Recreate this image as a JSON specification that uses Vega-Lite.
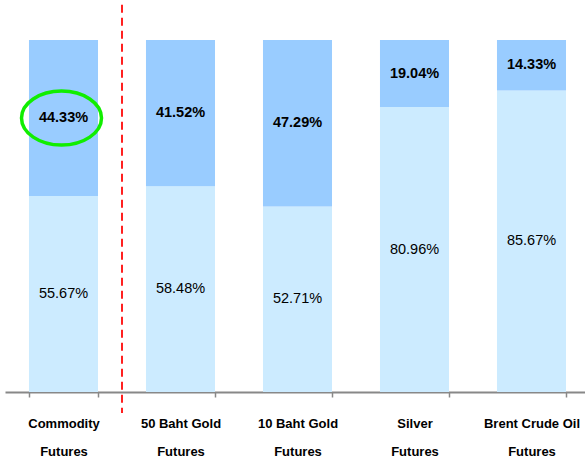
{
  "$schema": "https://vega.github.io/schema/vega-lite/v6.json",
  "autosize": "none",
  "width": 585,
  "height": 352,
  "padding": {"left": 5, "top": 40, "right": 0, "bottom": 69},
  "background": "white",
  "config": {"view": {"stroke": null}, "font": "Liberation Sans"},
  "data": {"values": [
    {"cat": "Commodity|Futures", "series": "bottom", "ord": 0, "v": 55.67},
    {"cat": "Commodity|Futures", "series": "top", "ord": 1, "v": 44.33},
    {"cat": "50 Baht Gold|Futures", "series": "bottom", "ord": 0, "v": 58.48},
    {"cat": "50 Baht Gold|Futures", "series": "top", "ord": 1, "v": 41.52},
    {"cat": "10 Baht Gold|Futures", "series": "bottom", "ord": 0, "v": 52.71},
    {"cat": "10 Baht Gold|Futures", "series": "top", "ord": 1, "v": 47.29},
    {"cat": "Silver|Futures", "series": "bottom", "ord": 0, "v": 80.96},
    {"cat": "Silver|Futures", "series": "top", "ord": 1, "v": 19.04},
    {"cat": "Brent Crude Oil|Futures", "series": "bottom", "ord": 0, "v": 85.67},
    {"cat": "Brent Crude Oil|Futures", "series": "top", "ord": 1, "v": 14.33}
  ]},
  "transform": [
    {"stack": "v", "groupby": ["cat"], "sort": [{"field": "ord"}], "as": ["y0", "y1"]},
    {"calculate": "(datum.y0 + datum.y1) / 2", "as": "mid"},
    {"calculate": "format(datum.v, '.2f') + '%'", "as": "lab"}
  ],
  "encoding": {
    "x": {
      "field": "cat", "type": "nominal", "sort": null, "title": null,
      "scale": {"paddingInner": 0.41, "paddingOuter": 0.205},
      "axis": {
        "labelAngle": 0,
        "labelExpr": "split(datum.label, '|')",
        "labelFont": "Liberation Sans",
        "labelFontSize": 13,
        "labelFontWeight": "bold",
        "labelColor": "black",
        "labelLineHeight": 28,
        "labelPadding": 20,
        "tickBand": "extent",
        "tickColor": "#888888",
        "tickSize": 5,
        "tickWidth": 1.5,
        "domainColor": "#888888",
        "domainWidth": 2
      }
    }
  },
  "layer": [
    {
      "mark": {"type": "bar"},
      "encoding": {
        "y": {"field": "y0", "type": "quantitative", "scale": {"domain": [0, 100]}, "axis": null},
        "y2": {"field": "y1"},
        "color": {"field": "series", "type": "nominal", "legend": null,
          "scale": {"domain": ["bottom", "top"], "range": ["#CCEBFF", "#99CCFF"]}}
      }
    },
    {
      "transform": [{"filter": "datum.series == 'bottom'"}],
      "mark": {"type": "text", "fontSize": 14.5, "font": "Liberation Sans", "color": "black"},
      "encoding": {
        "y": {"field": "mid", "type": "quantitative"},
        "text": {"field": "lab"}
      }
    },
    {
      "transform": [{"filter": "datum.series == 'top'"}],
      "mark": {"type": "text", "fontSize": 14.5, "fontWeight": "bold", "font": "Liberation Sans", "color": "black"},
      "encoding": {
        "y": {"field": "mid", "type": "quantitative"},
        "text": {"field": "lab"}
      }
    },
    {
      "transform": [{"filter": "datum.cat == 'Commodity|Futures' && datum.series == 'top'"}],
      "mark": {"type": "rule", "color": "#FF2020", "strokeWidth": 2, "strokeDash": [8, 5], "clip": false},
      "encoding": {
        "x": {"field": "cat", "type": "nominal", "sort": null, "bandPosition": 1.3475},
        "y": {"datum": 110},
        "y2": {"datum": -6}
      }
    },
    {
      "transform": [{"filter": "datum.cat == 'Commodity|Futures' && datum.series == 'top'"}],
      "mark": {"type": "point", "shape": "M-1,0A1,0.675,0,1,1,1,0A1,0.675,0,1,1,-1,0Z", "size": 6400, "filled": false, "stroke": "#11EE00", "strokeWidth": 3.5, "opacity": 1, "xOffset": -2},
      "encoding": {
        "y": {"field": "mid", "type": "quantitative"}
      }
    }
  ]
}
